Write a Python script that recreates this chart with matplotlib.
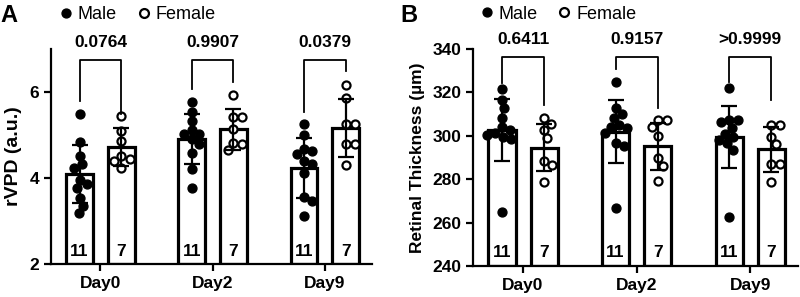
import numpy as np
import matplotlib
matplotlib.use("Agg")
import matplotlib.pyplot as plt
from matplotlib.lines import Line2D

plt.rcParams['font.family'] = ['Liberation Sans', 'DejaVu Sans']

days = ["Day0", "Day2", "Day9"]
groups = ["Male", "Female"]
counts = [11, 7]

# Panel A: rVPD (a.u.)
a_male = [
    [5.49, 4.84, 4.51, 4.32, 4.24, 3.96, 3.85, 3.77, 3.54, 3.36, 3.19],
    [5.76, 5.53, 5.33, 5.12, 5.02, 5.02, 4.90, 4.78, 4.59, 4.20, 3.77],
    [5.25, 5.01, 4.68, 4.62, 4.55, 4.40, 4.33, 4.12, 3.55, 3.46, 3.12],
]
a_female = [
    [5.45, 5.09, 4.86, 4.51, 4.45, 4.39, 4.24],
    [5.93, 5.41, 5.41, 5.15, 4.82, 4.80, 4.65],
    [6.17, 5.86, 5.25, 5.25, 4.78, 4.78, 4.30],
]
a_mean_male = [4.10, 4.90, 4.24]
a_mean_female = [4.73, 5.13, 5.17]
a_sd_male = [0.67, 0.58, 0.70]
a_sd_female = [0.44, 0.48, 0.67]
a_pvals = ["0.0764", "0.9907", "0.0379"]
a_bracket_top = [6.75, 6.75, 6.75]
a_leg_male = [5.79, 6.07, 5.53]
a_leg_female = [5.48, 6.23, 6.50]

# Panel B: Retinal thickness (um)
b_male = [
    [321.6, 316.5, 312.7, 308.1, 304.0, 302.5, 301.5, 300.5, 299.5, 298.5, 265.0],
    [324.7, 312.7, 309.9, 308.1, 305.0, 304.0, 303.5, 301.2, 296.5, 295.4, 266.6],
    [322.2, 307.3, 307.3, 306.5, 303.5, 301.0, 299.5, 298.0, 296.5, 293.5, 262.7],
]
b_female = [
    [308.1, 305.3, 302.7, 298.8, 288.4, 286.5, 278.8],
    [307.3, 307.3, 304.2, 299.9, 289.6, 286.2, 279.2],
    [305.0, 305.0, 299.6, 296.1, 286.9, 286.9, 278.6],
]
b_mean_male = [302.6, 301.8, 299.5]
b_mean_female = [294.6, 295.2, 293.7]
b_sd_male = [14.4, 14.5, 14.4]
b_sd_female = [10.9, 10.8, 10.3]
b_pvals = ["0.6411", "0.9157", ">0.9999"]
b_bracket_top = [336.3, 336.3, 336.3]
b_leg_male = [324.3, 331.0, 324.8]
b_leg_female = [314.0, 312.8, 316.5]

W, H = 800, 297
fig = plt.figure(figsize=(W / 100, H / 100), dpi=100)

OFF = 0.186
BW = 0.24


def swarm(ax, vals, diam):
    """Simple beeswarm: returns x offsets (data units) for values."""
    t = ax.transData
    px_x = t.transform((1, 0))[0] - t.transform((0, 0))[0]
    px_y = t.transform((0, 1))[1] - t.transform((0, 0))[1]
    placed = []
    offs = np.zeros(len(vals))
    order = np.argsort(-np.asarray(vals))
    for i in order:
        y = vals[i] * px_y
        cands = [0.0]
        for (px, py) in placed:
            dy = abs(py - y)
            if dy < diam:
                dx = np.sqrt(diam ** 2 - dy ** 2)
                cands += [px + dx, px - dx]
        cands.sort(key=lambda c: (abs(c), -c))
        for c in cands:
            ok = all((c - px) ** 2 + (y - py) ** 2 >= diam ** 2 - 1e-6 for px, py in placed)
            if ok:
                break
        placed.append((c, y))
        offs[i] = c / px_x
    return offs


def panel(rect, ylim, yticks, ylabel, ylabel_size, males, females, mm, mf, sm, sf,
          pvals, btop, lm, lf, letter, letter_x, leg_x):
    ax = fig.add_axes(rect)
    ax.set_xlim(-0.44, 2.42)
    ax.set_ylim(*ylim)
    x = np.arange(len(days))
    xm = x - OFF
    xf = x + OFF
    ax.bar(xm, np.array(mm) - ylim[0], bottom=ylim[0], width=BW, facecolor='white',
           edgecolor='black', linewidth=2.3, zorder=2)
    ax.bar(xf, np.array(mf) - ylim[0], bottom=ylim[0], width=BW, facecolor='white',
           edgecolor='black', linewidth=2.3, zorder=2)
    for i in range(len(days)):
        om = swarm(ax, males[i], 8.6)
        of = swarm(ax, females[i], 9.0)
        ax.plot(xm[i] + om, males[i], 'o', ms=6.4, color='black', zorder=3, clip_on=False)
        ax.plot(xf[i] + of, females[i], 'o', ms=5.8, mfc='white', mec='black', mew=1.6,
                zorder=3, clip_on=False)
    ax.errorbar(xm, mm, yerr=sm, fmt='none', ecolor='black', elinewidth=1.6,
                capsize=6, capthick=1.6, zorder=4)
    ax.errorbar(xf, mf, yerr=sf, fmt='none', ecolor='black', elinewidth=1.6,
                capsize=6, capthick=1.6, zorder=4)
    # significance brackets
    for i in range(len(days)):
        ax.plot([xm[i], xm[i], xf[i], xf[i]], [lm[i], btop[i], btop[i], lf[i]],
                color='black', lw=1.3, zorder=4, clip_on=False)
        ax.annotate(pvals[i], xy=(x[i], btop[i]), xytext=(0, 7), textcoords='offset points',
                    ha='center', va='bottom', fontsize=12.5, fontweight='bold')
    # counts inside bars
    for xs, n in ((xm, counts[0]), (xf, counts[1])):
        for xx in xs:
            ax.text(xx, 0.06, str(n), transform=ax.get_xaxis_transform(), ha='center',
                    va='center', fontsize=12.5, fontweight='bold', zorder=5)
    ax.set_xticks(x)
    ax.set_xticklabels(days, fontsize=12.5, fontweight='bold')
    ax.set_yticks(yticks)
    ax.set_yticklabels([str(v) for v in yticks], fontsize=12.5, fontweight='bold')
    ax.set_ylabel(ylabel, fontsize=ylabel_size, fontweight='bold', labelpad=5)
    for s in ('top', 'right'):
        ax.spines[s].set_visible(False)
    for s in ('left', 'bottom'):
        ax.spines[s].set_linewidth(1.6)
    ax.tick_params(axis='both', width=1.6, length=5, pad=3.5)
    handles = [Line2D([], [], marker='o', ls='none', color='black', ms=6.4),
               Line2D([], [], marker='o', ls='none', mfc='white', mec='black', mew=1.6, ms=6.4)]
    ax.legend(handles, groups, ncol=2, frameon=False, loc='center left',
              bbox_to_anchor=(leg_x, 1.16), fontsize=13, handlelength=0.6,
              handletextpad=0.35, columnspacing=1.2, borderpad=0, borderaxespad=0)
    fig.text(letter_x, 0.985, letter, fontsize=17, fontweight='bold', va='top', ha='left')
    return ax


panel([51 / W, 1 - 264 / H, 321 / W, 215 / H], (2, 7), [2, 4, 6], "rVPD (a.u.)", 14,
      a_male, a_female, a_mean_male, a_mean_female, a_sd_male, a_sd_female,
      a_pvals, a_bracket_top, a_leg_male, a_leg_female, "A", 0.0, 0.03)
panel([473 / W, 1 - 266 / H, 325 / W, 217 / H], (240, 340), [240, 260, 280, 300, 320, 340],
      "Retinal Thickness (\u00b5m)", 12.5,
      b_male, b_female, b_mean_male, b_mean_female, b_sd_male, b_sd_female,
      b_pvals, b_bracket_top, b_leg_male, b_leg_female, "B", 0.5, 0.025)

fig.savefig("out.png", dpi=100)
